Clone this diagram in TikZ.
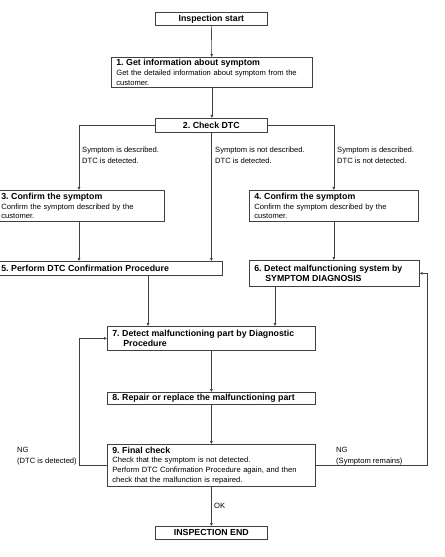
\documentclass[tikz,border=0pt]{standalone}
\usepackage{fontspec}
\setmainfont{Liberation Sans}
\usetikzlibrary{arrows.meta}
\frenchspacing
\newcommand{\ttl}[1]{{\fontsize{8.8bp}{9.6bp}\selectfont\bfseries #1}}
\tikzset{
  box/.style={draw=black!75, line width=0.7bp, anchor=north west, inner xsep=5bp, inner ysep=0pt, align=left,
     font=\fontsize{7.6bp}{9.6bp}\selectfont\frenchspacing},
  cbox/.style={draw=black!75, line width=0.7bp, anchor=north west, inner sep=0pt, align=center,
     font=\fontsize{8.8bp}{9.6bp}\selectfont\bfseries\frenchspacing},
  conn/.style={draw=black!75, line width=0.6bp, -{Triangle[length=3bp,width=2.6bp]}},
  lbl/.style={anchor=north west, inner sep=0pt, align=left, font=\fontsize{7.6bp}{10.5bp}\selectfont\frenchspacing}
}
\begin{document}
\begin{tikzpicture}[x=1bp,y=-1bp]
\useasboundingbox (0,0) rectangle (445,557);
% boxes
\node[cbox, minimum width=112bp, minimum height=13bp] (s) at (155,12) {Inspection start};
\node[box, minimum width=201bp, minimum height=30bp, text width=191bp] (b1) at (111,57)
  {\ttl{1. Get information about symptom}\\Get the detailed information about symptom from the\\customer.};
\node[cbox, minimum width=112bp, minimum height=14bp] (b2) at (155,118) {2. Check DTC};
\node[box, minimum width=168bp, minimum height=31bp, text width=158bp] (b3) at (-4,190)
  {\ttl{3. Confirm the symptom}\\Confirm the symptom described by the\\customer.};
\node[box, minimum width=169bp, minimum height=31bp, text width=159bp] (b4) at (249,190)
  {\ttl{4. Confirm the symptom}\\Confirm the symptom described by the\\customer.};
\node[box, minimum width=226bp, minimum height=14bp, text width=216bp] (b5) at (-4,261)
  {\ttl{5. Perform DTC Confirmation Procedure}};
\node[box, minimum width=170bp, minimum height=26bp, text width=160bp] (b6) at (249,260)
  {\ttl{6. Detect malfunctioning system by}\\\ttl{\hspace*{11bp}SYMPTOM DIAGNOSIS}};
\node[box, minimum width=208bp, minimum height=24bp, text width=198bp] (b7) at (107,326)
  {\ttl{7. Detect malfunctioning part by Diagnostic}\\\ttl{\hspace*{11bp}Procedure}};
\node[box, minimum width=208bp, minimum height=12bp, text width=198bp] (b8) at (107,392)
  {\ttl{8. Repair or replace the malfunctioning part}};
\node[box, minimum width=208bp, minimum height=42bp, text width=198bp] (b9) at (107,444)
  {\ttl{9. Final check}\\Check that the symptom is not detected.\\Perform DTC Confirmation Procedure again, and then\\check that the malfunction is repaired.};
\node[cbox, minimum width=112bp, minimum height=13bp] (e) at (155,526) {INSPECTION END};
% loop coordinates
\coordinate (nl) at (79,0);
\coordinate (nr) at (427,0);
\coordinate (c5) at (148,0);
\coordinate (c6) at (275,0);
% connectors
\draw[conn] (s) -- (b1);
\draw[conn] (b1.south) -- (b1.south |- b2.north);
\draw[conn] (b2.west) -| (b3.north -| nl);
\draw[conn] (b2.south) -- (b2.south |- b5.north);
\draw[conn] (b2.east) -| (b4.north);
\draw[conn] (b3.south -| nl) -- (b5.north -| nl);
\draw[conn] (b4.south) -- (b6.north -| b4.south);
\draw[conn] (b5.south -| c5) -- (b7.north -| c5);
\draw[conn] (b6.south -| c6) -- (b7.north -| c6);
\draw[conn] (b7.south) -- (b7.south |- b8.north);
\draw[conn] (b8.south) -- (b8.south |- b9.north);
\draw[conn] (b9.south) -- (b9.south |- e.north);
\draw[conn] (b9.west) -- (b9.west -| nl) |- (b7.west);
\draw[conn] (b9.east) -- (b9.east -| nr) |- (b6.east);
% labels
\node[lbl] (l1) at (82,147) {Symptom is described.\\DTC is detected.};
\node[lbl] (l2) at (215,147) {Symptom is not described.\\DTC is detected.};
\node[lbl] (l3) at (337,147) {Symptom is described.\\DTC is not detected.};
\node[lbl] (l4) at (17,447) {NG\\(DTC is detected)};
\node[lbl] (l5) at (336,447) {NG\\(Symptom remains)};
\node[lbl] (l6) at (214,503) {OK};
\end{tikzpicture}
\end{document}
